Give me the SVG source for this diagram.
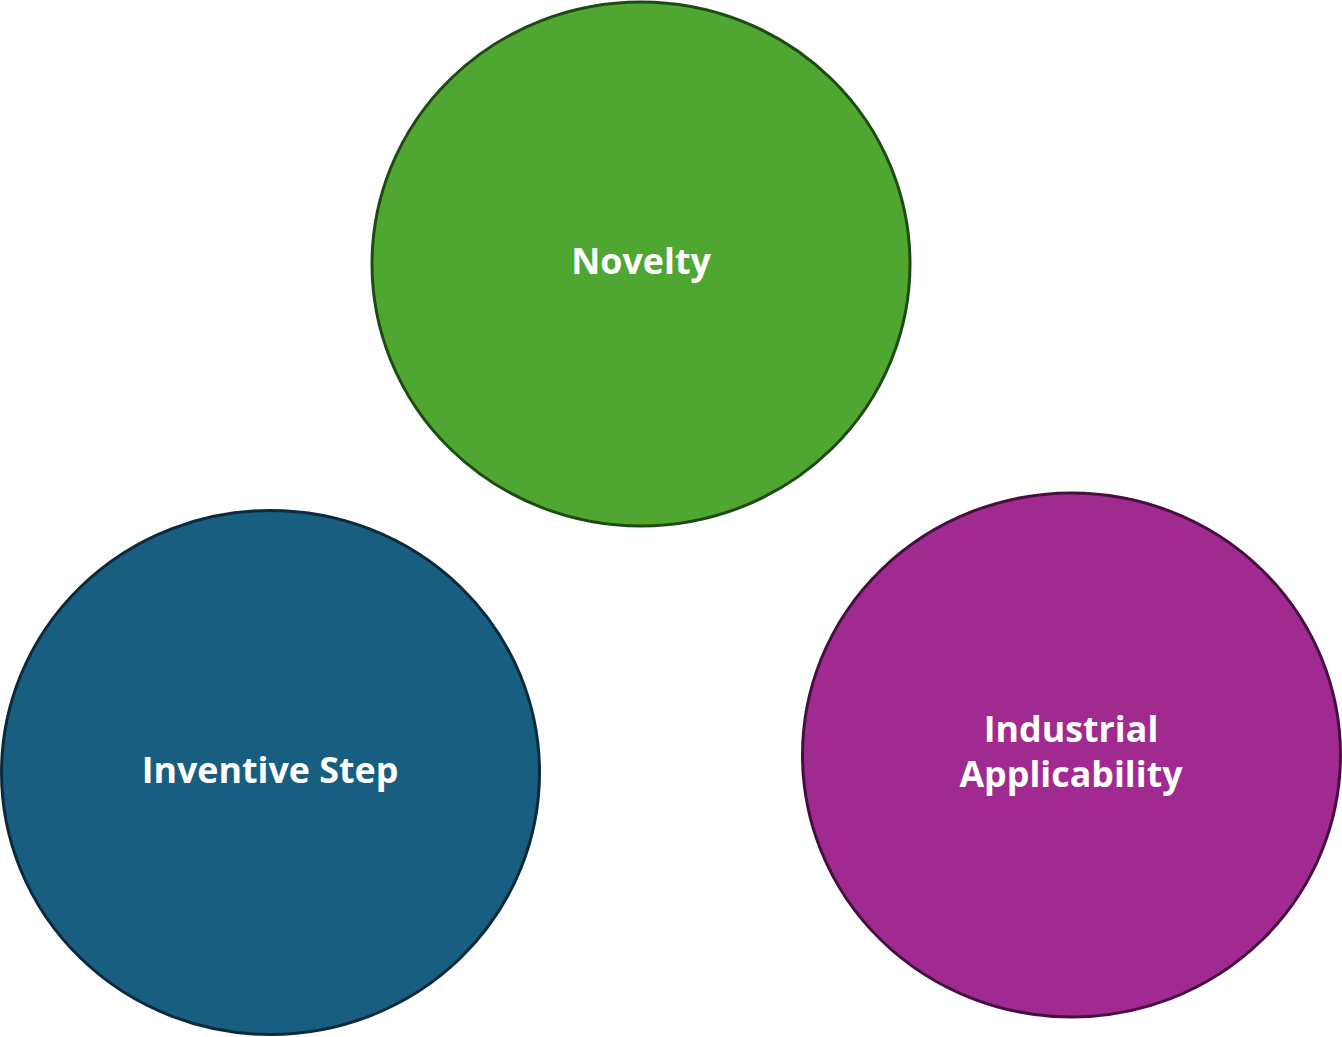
<svg xmlns="http://www.w3.org/2000/svg" width="1342" height="1037" viewBox="0 0 1342 1037">
<style>
.lbl{font-family:"Open Sans","Noto Sans",sans-serif;font-weight:700;font-size:35.8px;fill:#ffffff;text-anchor:middle}
.c{stroke-width:3}
</style>
<rect width="1342" height="1037" fill="#ffffff"/>
<g id="connectors"></g>
<g id="novelty">
<ellipse class="c" cx="641" cy="264" rx="269" ry="262" fill="#4fa630" stroke="#1e4a14"/>
<text class="lbl" x="641" y="274">Novelty</text>
</g>
<g id="inventive-step">
<ellipse class="c" cx="270.5" cy="772.5" rx="269" ry="262" fill="#175e80" stroke="#0c2a3b"/>
<text class="lbl" x="270" y="783">Inventive Step</text>
</g>
<g id="industrial-applicability">
<ellipse class="c" cx="1071.5" cy="755" rx="269" ry="262" fill="#a02a90" stroke="#451040"/>
<text class="lbl" x="1071" y="742">Industrial</text>
<text class="lbl" x="1071" y="787">Applicability</text>
</g>
</svg>
